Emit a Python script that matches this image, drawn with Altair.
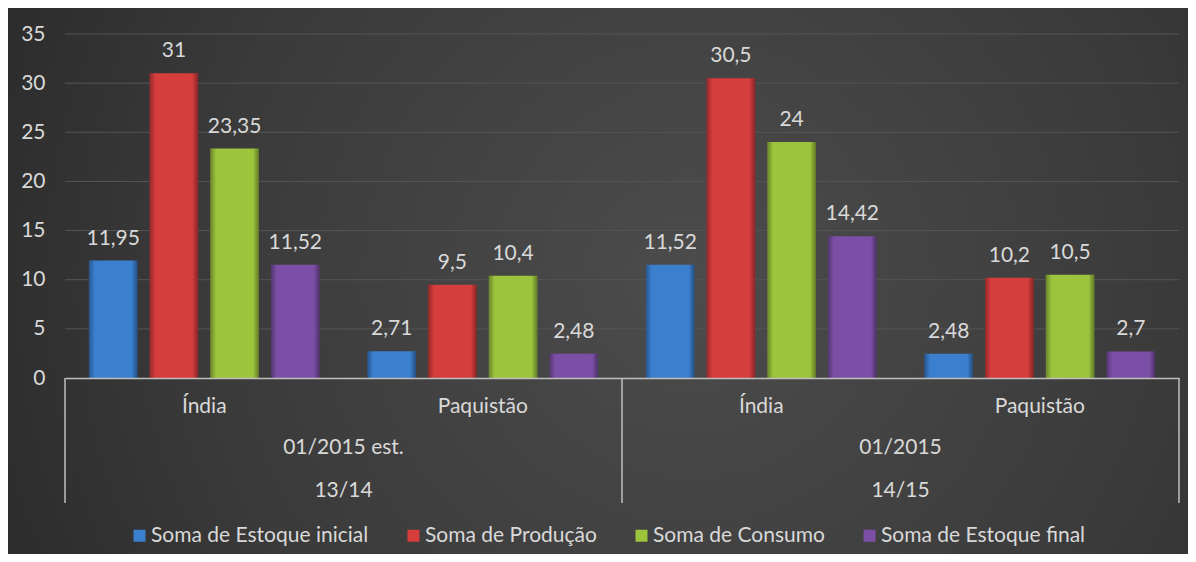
import altair as alt
import pandas as pd

# ---- data ----
seasons = ["13/14", "13/14", "14/15", "14/15"]
dates = ["01/2015 est.", "01/2015 est.", "01/2015", "01/2015"]
countries = ["Índia", "Paquistão", "Índia", "Paquistão"]
series = ["Soma de Estoque inicial", "Soma de Produção", "Soma de Consumo", "Soma de Estoque final"]
colors = ["#3b7fcf", "#d63d3d", "#9cc43d", "#7c4fa7"]
estoque_inicial = [11.95, 2.71, 11.52, 2.48]
producao = [31, 9.5, 30.5, 10.2]
consumo = [23.35, 10.4, 24, 10.5]
estoque_final = [11.52, 2.48, 14.42, 2.7]
y_ticks = [0, 5, 10, 15, 20, 25, 30, 35]

keys = [f"{s}|{d}|{c}" for s, d, c in zip(seasons, dates, countries)]
rows = []
for name, vals in zip(series, [estoque_inicial, producao, consumo, estoque_final]):
    for k, v in zip(keys, vals):
        rows.append({"key": k, "serie": name, "value": v})
bars_df = pd.DataFrame(rows)
grp_df = pd.DataFrame({"key": keys, "country": countries})
# hierarchy: each half (date/season) is centred on the boundary of its two country groups
halves_df = pd.DataFrame({"key": [keys[1], keys[3]], "date": [dates[0], dates[2]], "season": [seasons[0], seasons[2]]})
sep_df = pd.DataFrame({"key": [keys[0], keys[2]]})
end_df = pd.DataFrame({"key": [keys[3]]})
grid_df = pd.DataFrame({"tick": y_ticks[1:]})
bg_df = pd.DataFrame({"a": [0]})

W, H = 1114, 344
PL, PT, PR, PB = 57, 26, 9, 176
FONT = "Lato"
FS = 21
TXT = "#d9d9d9"
AX = "#bfbfbf"

xscale = alt.Scale(domain=keys, paddingInner=0, paddingOuter=0)
yscale = alt.Scale(domain=[0, 35], nice=False)
xaxis = alt.Axis(labels=False, ticks=False, title=None, domain=True,
                 domainColor=AX, domainWidth=1.5, grid=False, zindex=1)
yaxis = alt.Axis(values=y_ticks, title=None, ticks=False, tickSize=0, domain=False,
                 grid=False, zindex=1,
                 labelColor=TXT, labelFont=FONT, labelFontSize=FS, labelPadding=20)


def xenc(bp=None):
    if bp is None:
        return alt.X("key:N", scale=xscale, axis=xaxis)
    return alt.X("key:N", scale=xscale, axis=xaxis, bandPosition=bp)


grad = alt.RadialGradient(
    gradient="radial",
    stops=[alt.GradientStop(offset=0, color="#4c4c4c"),
           alt.GradientStop(offset=0.55, color="#3a3a3a"),
           alt.GradientStop(offset=1, color="#242424")],
    x1=0.58, y1=0.5, r1=0, x2=0.58, y2=0.5, r2=0.75,
)
bg = alt.Chart(bg_df).mark_rect(fill=grad).encode(
    x=alt.value(-PL), x2=alt.value(W + PR), y=alt.value(-PT), y2=alt.value(H + PB)
)

grid = alt.Chart(grid_df).mark_rule(color="#555555", strokeWidth=1).encode(
    y=alt.Y("tick:Q", scale=yscale, axis=yaxis), x=alt.value(0), x2=alt.value(W)
)

base = alt.Chart(bars_df).transform_calculate(
    label="replace(toString(datum.value), '.', ',')"
).encode(
    x=xenc(),
    xOffset=alt.XOffset("serie:N", sort=series,
                        scale=alt.Scale(domain=series, paddingInner=0.2, paddingOuter=0.394)),
    y=alt.Y("value:Q", scale=yscale, axis=yaxis),
)

bars = base.mark_bar().encode(
    color=alt.Color(
        "serie:N", sort=series,
        scale=alt.Scale(domain=series, range=colors),
        legend=alt.Legend(orient="none", legendX=64, legendY=491, direction="horizontal",
                          title=None, symbolType="square", symbolSize=144, symbolStrokeWidth=0,
                          symbolOpacity=1, labelLimit=500,
                          labelFontSize=FS, labelColor=TXT, labelFont=FONT,
                          columnPadding=34, labelOffset=1, padding=0),
    )
)
shade = alt.LinearGradient(
    gradient="linear", x1=0, y1=0, x2=1, y2=0,
    stops=[alt.GradientStop(offset=0, color="rgba(0,0,0,0.32)"),
           alt.GradientStop(offset=0.12, color="rgba(0,0,0,0.0)"),
           alt.GradientStop(offset=0.88, color="rgba(0,0,0,0.0)"),
           alt.GradientStop(offset=1, color="rgba(0,0,0,0.38)")],
)
bar_shade = base.mark_bar(fill=shade)

bar_labels = base.mark_text(baseline="middle", dy=-22, fontSize=FS, color=TXT, font=FONT).encode(
    text="label:N"
)

country_text = alt.Chart(grp_df).mark_text(baseline="middle", fontSize=FS, color=TXT, font=FONT).encode(
    x=xenc(), y=alt.value(H + 29), text="country:N"
)
date_text = alt.Chart(halves_df).mark_text(baseline="middle", fontSize=FS, color=TXT, font=FONT).encode(
    x=xenc(0), y=alt.value(H + 70), text="date:N"
)
season_text = alt.Chart(halves_df).mark_text(baseline="middle", fontSize=FS, color=TXT, font=FONT).encode(
    x=xenc(0), y=alt.value(H + 113), text="season:N"
)
sep_rules = alt.Chart(sep_df).mark_rule(color=AX, strokeWidth=1.5).encode(
    x=xenc(0), y=alt.value(H), y2=alt.value(H + 125)
)
end_rule = alt.Chart(end_df).mark_rule(color=AX, strokeWidth=1.5).encode(
    x=xenc(1), y=alt.value(H), y2=alt.value(H + 125)
)

chart = alt.layer(
    bg, grid, bars, bar_shade, bar_labels, country_text, date_text, season_text, sep_rules, end_rule
).properties(
    width=W, height=H,
    padding={"left": PL, "top": PT, "right": PR, "bottom": PB},
    autosize=alt.AutoSizeParams(type="none"),
    background="#2e2e2e",
).configure_view(stroke=None)

chart.save("out.html", embed_options={"renderer": "svg", "actions": False})
